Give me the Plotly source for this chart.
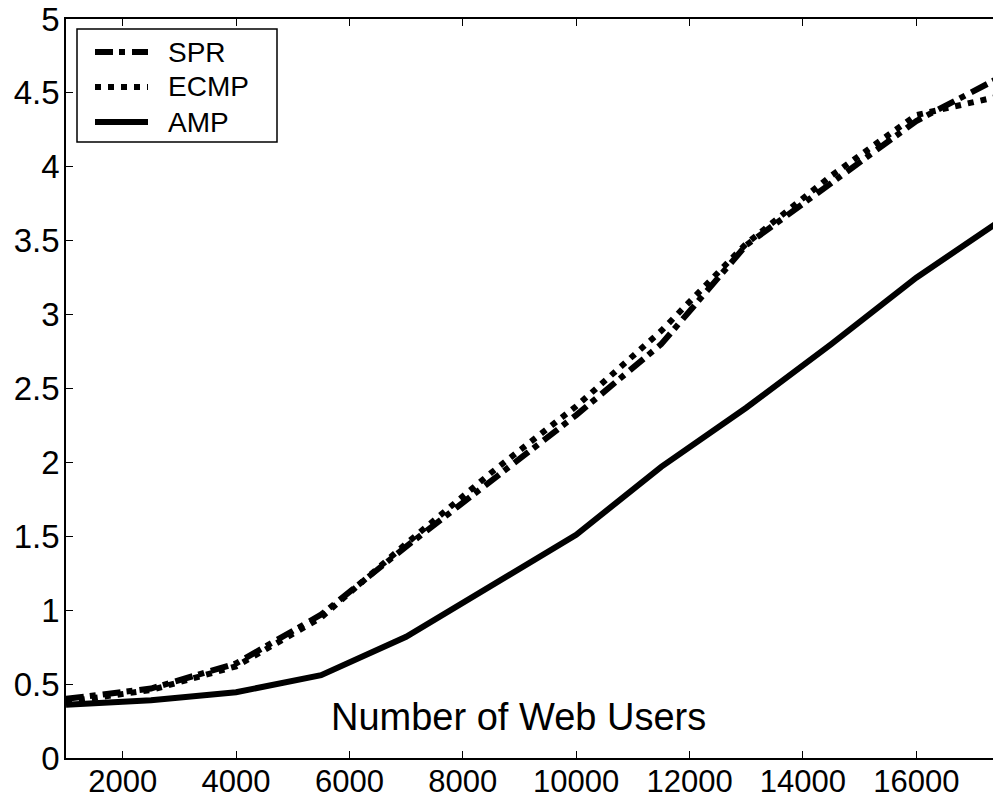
import plotly.graph_objects as go

# Number of web users (x) and the three routing schemes
users = [1000, 2500, 4000, 5500, 7000, 8500, 10000, 11500, 13000, 14500, 16000, 17500]
spr = [0.40, 0.47, 0.64, 0.97, 1.43, 1.88, 2.32, 2.80, 3.47, 3.89, 4.31, 4.61]
ecmp = [0.38, 0.46, 0.62, 0.95, 1.45, 1.93, 2.38, 2.89, 3.48, 3.94, 4.35, 4.48]
amp = [0.36, 0.39, 0.445, 0.56, 0.82, 1.17, 1.51, 1.97, 2.37, 2.80, 3.25, 3.64]

series_names = ["SPR", "ECMP", "AMP"]
series_dash = ["18px,6px,6px,7px", "6px,7px", "solid"]

x_ticks = [2000, 4000, 6000, 8000, 10000, 12000, 14000, 16000]
x_tick_text = ["2000", "4000", "6000", "8000", "10000", "12000", "14000", "16000"]
y_ticks = [0, 0.5, 1, 1.5, 2, 2.5, 3, 3.5, 4, 4.5, 5]
y_tick_text = ["0", "0.5", "1", "1.5", "2", "2.5", "3", "3.5", "4", "4.5", "5"]

FONT = "Arial, Liberation Sans, sans-serif"
W, H = 993, 799
ML, MR, MT, MB = 66, 0, 19, 41
PW, PH = W - ML - MR, H - MT - MB


def px_x(px):
    """Pixel column -> paper x."""
    return (px - ML) / PW


def px_y(py):
    """Pixel row -> paper y."""
    return (H - MB - py) / PH


fig = go.Figure()
for name, vals, dash in zip(series_names, [spr, ecmp, amp], series_dash):
    fig.add_trace(go.Scatter(x=users, y=vals, name=name, mode="lines",
                             line=dict(color="black", width=6, dash=dash)))

# Boxed legend in the upper-left corner with long line samples
shapes = [dict(type="rect", xref="paper", yref="paper",
               x0=px_x(77), x1=px_x(277), y0=px_y(142), y1=px_y(29),
               line=dict(color="black", width=1.5), fillcolor="white", layer="above")]
annotations = []
for i, (name, dash) in enumerate(zip(series_names, series_dash)):
    row_y = px_y(52 + i * 35)
    shapes.append(dict(type="line", xref="paper", yref="paper",
                       x0=px_x(95), x1=px_x(148), y0=row_y, y1=row_y,
                       line=dict(color="black", width=6, dash=dash), layer="above"))
    annotations.append(dict(text=name, xref="paper", yref="paper",
                            x=px_x(166), y=row_y, xanchor="left", yanchor="middle",
                            showarrow=False, font=dict(size=28, family=FONT)))

annotations.append(dict(text="Number of Web Users", xref="paper", yref="paper",
                        x=px_x(518), y=px_y(717), xanchor="center", yanchor="middle",
                        showarrow=False, font=dict(size=38, family=FONT)))

fig.update_layout(
    width=W, height=H,
    margin=dict(l=ML, r=MR, t=MT, b=MB, autoexpand=False),
    paper_bgcolor="white", plot_bgcolor="white",
    font=dict(family=FONT, color="black", size=32),
    showlegend=False,
    xaxis=dict(range=[1000, 17353], tickvals=x_ticks, ticktext=x_tick_text,
               ticks="inside", ticklen=7, tickwidth=1.2, tickcolor="black",
               showline=True, linecolor="black", linewidth=1.5, mirror="ticks",
               showgrid=False, zeroline=False, ticklabelstandoff=-5, automargin=False,
               tickfont=dict(size=31, family=FONT)),
    yaxis=dict(range=[0, 5], tickvals=y_ticks, ticktext=y_tick_text, ticks="inside",
               ticklen=7, tickwidth=1.2, tickcolor="black", showline=True,
               linecolor="black", linewidth=1.5, mirror=False, showgrid=False,
               zeroline=False, ticklabelstandoff=-2, automargin=False,
               tickfont=dict(size=33, family=FONT)),
    shapes=shapes,
    annotations=annotations,
)

fig.write_html("out.html")
